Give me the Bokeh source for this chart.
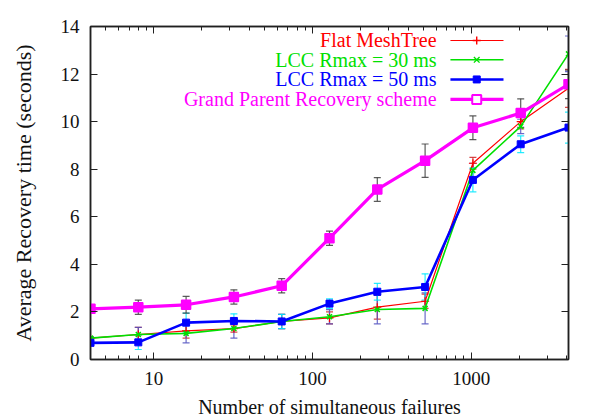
import math
from bokeh.plotting import figure
from bokeh.core.properties import value
from bokeh.models import (ColumnDataSource, Range1d, LogAxis, LinearAxis, LogTicker,
                          FixedTicker, Whisker, TeeHead, PrintfTickFormatter)
from bokeh.embed import file_html
from bokeh.resources import INLINE

# ---- data ----
failures = [4, 8, 16, 32, 64, 128, 256, 512, 1024, 2048, 4096]

flat_mesh = [0.9, 1.05, 1.2, 1.3, 1.6, 1.75, 2.2, 2.45, 8.25, 10.0, 11.4]
flat_mesh_err = [0.05, 0.3, 0.3, 0.15, 0.3, 0.25, 0.5, 0.3, 0.25, 0.3, 0.8]

lcc30 = [0.9, 1.05, 1.1, 1.3, 1.6, 1.8, 2.1, 2.15, 7.95, 9.8, 12.85]
lcc30_err = [0.05, 0.3, 0.4, 0.4, 0.3, 0.3, 0.6, 0.65, 0.3, 0.3, 0.75]

lcc50 = [0.7, 0.72, 1.55, 1.62, 1.6, 2.35, 2.85, 3.05, 7.55, 9.05, 9.75]
lcc50_err = [0.1, 0.3, 0.4, 0.3, 0.3, 0.2, 0.35, 0.55, 0.5, 0.35, 0.65]

grand_parent = [2.13, 2.2, 2.3, 2.63, 3.1, 5.1, 7.15, 8.36, 9.74, 10.36, 11.57]
grand_parent_err = [0.05, 0.3, 0.35, 0.3, 0.3, 0.3, 0.5, 0.7, 0.5, 0.6, 0.6]

series_names = ["Flat MeshTree", "LCC Rmax = 30 ms", "LCC Rmax = 50 ms",
                "Grand Parent Recovery scheme"]
y_ticks = [0, 2, 4, 6, 8, 10, 12, 14]

FONT = "Liberation Serif"

p = figure(width=600, height=420, x_axis_type="log",
           x_range=Range1d(4, 4096), y_range=Range1d(0, 14),
           output_backend="svg", toolbar_location=None,
           min_border_left=90, min_border_right=32, min_border_top=26,
           min_border_bottom=60)
p.xgrid.visible = False
p.ygrid.visible = False
p.outline_line_color = "#202020"
p.outline_line_width = 1.5
p.background_fill_color = "white"
p.border_fill_color = "white"

def style_axis(ax, labels=True):
    ax.axis_line_color = "#202020"
    ax.axis_line_width = 1.5
    ax.major_tick_in = 7
    ax.major_tick_out = 0
    ax.minor_tick_in = 4
    ax.minor_tick_out = 0
    ax.major_tick_line_color = "#202020"
    ax.minor_tick_line_color = "#202020"
    ax.major_label_text_font = FONT
    ax.major_label_text_font_size = "19px"
    ax.major_label_text_color = "#111111"
    ax.axis_label_text_font = FONT
    ax.axis_label_text_font_size = "20px"
    ax.axis_label_text_font_style = "normal"
    ax.axis_label_text_color = "#111111"
    if not labels:
        ax.major_label_text_font_size = "0px"
        ax.major_label_text_alpha = 0

xticker = LogTicker(desired_num_ticks=3, num_minor_ticks=10)
xticker2 = LogTicker(desired_num_ticks=3, num_minor_ticks=10)
p.xaxis.ticker = xticker
p.xaxis.formatter = PrintfTickFormatter(format="%d")
p.yaxis.ticker = FixedTicker(ticks=y_ticks, minor_ticks=[])
style_axis(p.xaxis[0])
style_axis(p.yaxis[0])
p.xaxis.axis_label = "Number of simultaneous failures"
p.yaxis.axis_label = "Average Recovery time (seconds)"
p.yaxis.axis_label_text_font_size = "22px"
p.xaxis.major_label_standoff = 12
p.xaxis.axis_label_standoff = 8
p.yaxis.major_label_standoff = 11
p.yaxis.axis_label_standoff = 22

top = LogAxis(ticker=xticker2)
style_axis(top, labels=False)
p.add_layout(top, "above")
right = LinearAxis(ticker=FixedTicker(ticks=y_ticks, minor_ticks=[]))
style_axis(right, labels=False)
p.add_layout(right, "right")
top.major_label_standoff = 0
right.major_label_standoff = 0

colors = ["#ff0000", "#00e000", "#0000ff", "#ff00ff"]
err_colors = ["#d02828", "#5050c0", "#00e8ff", "#404040"]
widths = [1.2, 1.6, 2.6, 3.2]
values = [flat_mesh, lcc30, lcc50, grand_parent]
errs = [flat_mesh_err, lcc30_err, lcc50_err, grand_parent_err]

for i, (vals, e) in enumerate(zip(values, errs)):
    src = ColumnDataSource(dict(x=failures, y=vals,
                                upper=[v + d for v, d in zip(vals, e)],
                                lower=[v - d for v, d in zip(vals, e)]))
    p.line("x", "y", source=src, line_color=colors[i], line_width=widths[i])
    if i == 0:
        p.scatter("x", "y", source=src, marker="cross", size=8,
                  line_color=colors[i], line_width=1.2)
    elif i == 1:
        p.scatter("x", "y", source=src, marker="x", size=7,
                  line_color=colors[i], line_width=1.6)
    elif i == 2:
        p.scatter("x", "y", source=src, marker="square", size=7,
                  line_color=colors[i], fill_color=colors[i])
    else:
        p.scatter("x", "y", source=src, marker="square", size=9,
                  line_color=colors[i], fill_color=colors[i], line_width=1.5)
    w = Whisker(base="x", upper="upper", lower="lower", source=src,
                line_color=err_colors[i], line_width=1.2, line_alpha=0.85,
                upper_head=TeeHead(size=7, line_color=err_colors[i], line_width=1.2, line_alpha=0.85),
                lower_head=TeeHead(size=7, line_color=err_colors[i], line_width=1.2, line_alpha=0.85))
    p.add_layout(w)

# ---- custom legend (text right-aligned, sample on the right), placed by range fractions ----
lx0, lx1 = math.log10(4), math.log10(4096)
def fx(f):
    return 10 ** (lx0 + f * (lx1 - lx0))
def fy(f):
    return 0 + f * 14

text_f = 0.724
seg_a, seg_b, mark_f = 0.753, 0.864, 0.808
row_f = [0.958, 0.9, 0.841, 0.781]
markers = ["cross", "x", "square", "square"]
for i, name in enumerate(series_names):
    yy = fy(row_f[i])
    p.text(x=[fx(text_f)], y=[yy], text=[name], text_align="right",
           text_baseline="middle", text_font=value(FONT),
           text_font_size="20px", text_color=colors[i])
    p.line([fx(seg_a), fx(seg_b)], [yy, yy], line_color=colors[i], line_width=widths[i])
    if i == 3:
        p.scatter([fx(mark_f)], [yy], marker="square", size=9, line_color=colors[i],
                  fill_color="white", line_width=2)
    elif i == 2:
        p.scatter([fx(mark_f)], [yy], marker="square", size=7, line_color=colors[i],
                  fill_color=colors[i])
    else:
        p.scatter([fx(mark_f)], [yy], marker=markers[i], size=8, line_color=colors[i],
                  line_width=1.4)

open("out.html", "w").write(file_html(p, INLINE))
